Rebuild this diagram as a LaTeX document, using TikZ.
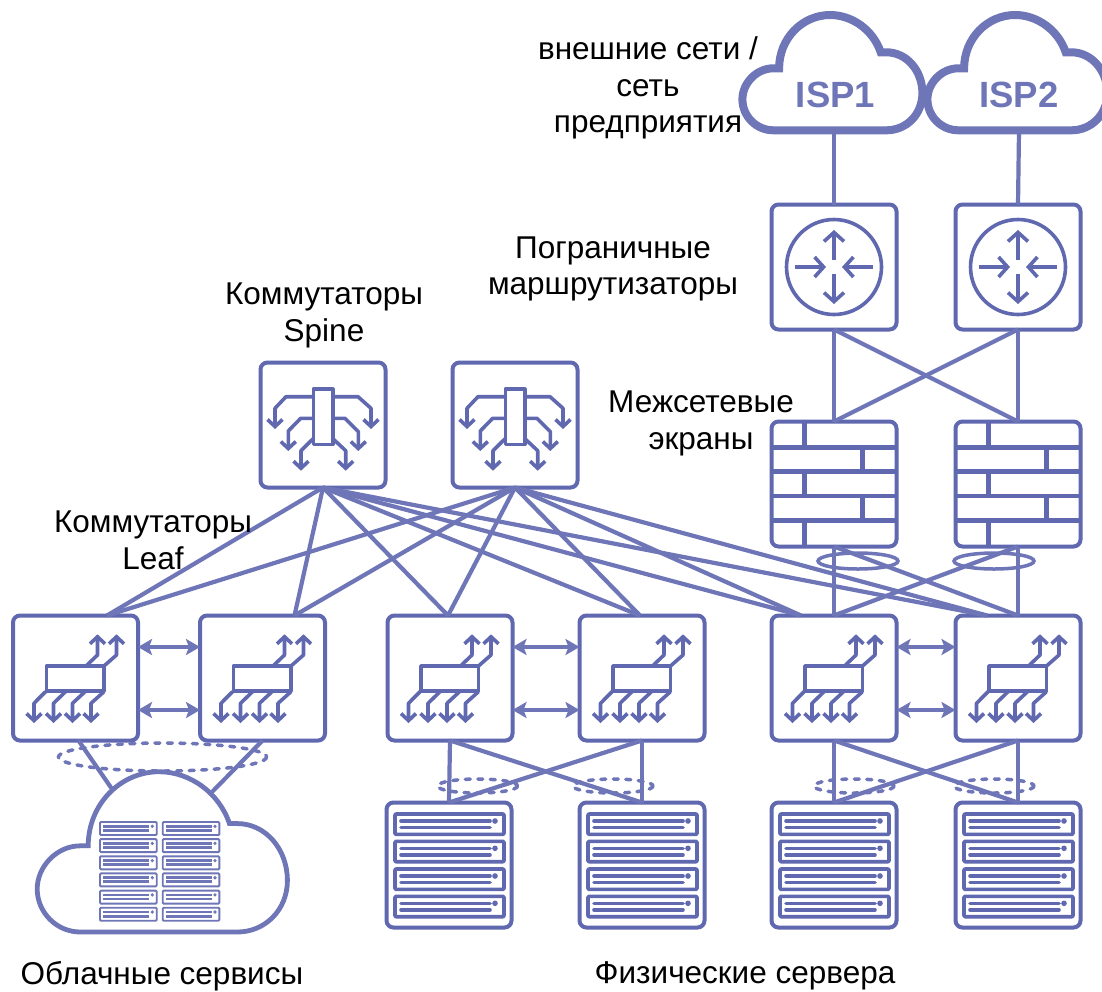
\documentclass[tikz,border=0pt]{standalone}
\usepackage{fontspec}
\setmainfont{Liberation Sans}
\usetikzlibrary{arrows.meta}
\definecolor{ic}{RGB}{96,104,176}
\definecolor{ln}{RGB}{110,118,184}
\tikzset{
  box/.style={draw=ic,line width=4pt,rounded corners=7pt,minimum size=125pt,inner sep=0pt,outer sep=0pt,fill=white},
  link/.style={draw=ln,line width=4.2pt},
  lbl/.style={font=\fontsize{31.5}{36.7}\selectfont,align=center,text=black,inner sep=0pt},
  isptext/.style={font=\fontsize{36.5}{36.5}\selectfont\bfseries,text=ln,inner sep=0pt,minimum height=70pt},
  iconline/.style={draw=ic,line width=3.6pt,line join=round},
  bar/.style={iconline,-{Straight Barb[length=7pt,width=15pt,line width=3.6pt]}},
  rbar/.style={iconline,-{Straight Barb[length=9pt,width=20pt,line width=3.6pt]}},
  dbl/.style={draw=ln,line width=4.5pt,{Stealth[length=14pt,width=16pt,inset=3pt]}-{Stealth[length=14pt,width=16pt,inset=3pt]}},
  ring/.style={draw=ln,line width=3.5pt},
  dring/.style={draw=ln,line width=3.5pt,line cap=round,dash pattern=on 5pt off 7.5pt},
  brick/.style={draw=ic,line width=4.8pt},
  cloudline/.style={draw=ln,line join=miter,fill=white},
  routericon/.pic={
    \draw[iconline] (0,0) circle[radius=47.5];
    \draw[rbar] (0,-7) -- (0,-37);
    \draw[rbar] (0,7) -- (0,37);
    \draw[rbar] (-39,0) -- (-8,0);
    \draw[rbar] (39,0) -- (8,0);
  },
  spineicon/.pic={
    \draw[bar] (-9.5,-28.3) -- (-37,-28.3) -- (-48,-16.7) -- (-48,4);
    \draw[bar] (-9.5,-6.7) -- (-22.3,-6.7) -- (-34.7,6) -- (-34.7,26);
    \draw[bar] (-9.5,13.3) -- (-22,25.7) -- (-22,45.7);
    \draw[bar] (9.5,-28.3) -- (35,-28.3) -- (48,-16.7) -- (48,4);
    \draw[bar] (9.5,-6.7) -- (22,-6.7) -- (35.3,6.7) -- (35.3,26);
    \draw[bar] (9.5,13.3) -- (22.7,25.7) -- (22.7,45.7);
    \draw[iconline,fill=white] (-9.7,-36) rectangle (9.7,19.5);
  },
  leaficon/.pic={
    \draw[bar] (10.5,-12) -- (22,-23) -- (22,-43.7);
    \draw[bar] (28.5,-12) -- (41,-23) -- (41,-43.7);
    \draw[bar] (-30,13.7) -- (-41.5,25.3) -- (-41.5,45);
    \draw[bar] (-10,13.7) -- (-22,25.3) -- (-22,45);
    \draw[bar] (9.5,13.7) -- (-3,25.3) -- (-3,45);
    \draw[bar] (28.5,13.7) -- (15.5,25.3) -- (15.5,45);
    \draw[iconline,fill=white] (-29,-12) rectangle (28.5,12.7);
  },
  firewallicon/.pic={
    \foreach \yy in {-36.7,-12.7,12,36.3} {\draw[brick] (-62.5,\yy) -- (62.5,\yy);}
    \draw[brick] (-29.5,-62.5) -- (-29.5,-36.7);
    \draw[brick] (28.6,-36.7) -- (28.6,-12.7);
    \draw[brick] (-29.5,-12.7) -- (-29.5,12);
    \draw[brick] (28.6,12) -- (28.6,36.3);
    \draw[brick] (-29.5,36.3) -- (-29.5,62.5);
  },
  servericon/.pic={
    \foreach \yy in {-51,-23.7,4,31.3} {
      \draw[iconline,rounded corners=1pt] (-54,\yy) rectangle (55,\yy+20.4);
      \draw[iconline,line cap=round] (-48,\yy+7) -- (41,\yy+7);
      \draw[iconline,line cap=round] (-48,\yy+13.4) -- (41,\yy+13.4);
      \fill[ic] (46,\yy+7) circle[radius=2.8];
    }
  },
  miniserver/.pic={
    \draw[draw=ln,line width=1.9pt,rounded corners=1pt] (0,0) rectangle (56.7,13);
    \draw[draw=ln,line width=2.8pt] (3.3,4.3) -- (49,4.3);
    \draw[draw=ln,line width=2.8pt] (3.3,8.4) -- (49,8.4);
    \fill[ln] (52.3,4.3) circle[radius=1.8];
  },
}
\newcommand{\cloudshape}[4]{%
  \draw[cloudline,line width=#4pt,shift={(#1,#2)},scale=#3]
    (-59,0) -- (54,0) .. controls (74,0) and (90,-16) .. (90,-37)
    .. controls (90,-60) and (74,-78) .. (54,-78) -- (48.3,-78)
    .. controls (41,-100) and (20,-115.3) .. (-2.3,-115.3)
    .. controls (-30,-115.3) and (-53.3,-92) .. (-53.3,-62) -- (-59,-62)
    .. controls (-76,-62) and (-90,-47) .. (-90,-31)
    .. controls (-90,-14) and (-76,0) .. (-59,0) -- cycle;}
\begin{document}
\begin{tikzpicture}[x=1pt,y=-1pt]
\useasboundingbox (0,0) rectangle (1102,991);
\clip (0,0) rectangle (1102,991);
\fill[white] (0,0) rectangle (1102,991);
% clouds
\cloudshape{832.4}{130.3}{1}{8}
\cloudshape{1017.4}{130.3}{1}{8}
\cloudshape{162.3}{932}{1.39}{4.8}
\node[isptext] (isp1) at (835.5,95) {ISP1};
\node[isptext] (isp2) at (1019,95) {ISP2};
% boxes
\node[box] (R1) at (834,267) {};
\node[box] (R2) at (1018,267) {};
\node[box] (F1) at (834,484) {};
\node[box] (F2) at (1018,484) {};
\node[box] (S1) at (323,425) {};
\node[box] (S2) at (515,425) {};
\node[box] (L1) at (75.5,678) {};
\node[box] (L2) at (262.5,678) {};
\node[box] (L3) at (450,678) {};
\node[box] (L4) at (642,678) {};
\node[box] (L5) at (834,678) {};
\node[box] (L6) at (1018,678) {};
\node[box] (V1) at (449,865) {};
\node[box] (V2) at (642,865) {};
\node[box] (V3) at (834,865) {};
\node[box] (V4) at (1018,865) {};
% icons
\pic at (R1) {routericon};
\pic at (R2) {routericon};
\pic at (F1) {firewallicon};
\pic at (F2) {firewallicon};
\pic at (S1) {spineicon};
\pic at (S2) {spineicon};
\foreach \n in {L1,L2,L3,L4,L5,L6} {\pic at (\n) {leaficon};}
\foreach \n in {V1,V2,V3,V4} {\pic at (\n) {servericon};}
\foreach \yy in {822,839.1,856.3,873.4,890.6,907.7} {
  \pic at (100,\yy) {miniserver};
  \pic at (162.7,\yy) {miniserver};
}
% rings
\draw[ring] (858,561) ellipse[x radius=40,y radius=8];
\draw[ring] (994,561) ellipse[x radius=40,y radius=8];
\draw[dring] (162.5,757) ellipse[x radius=104,y radius=14];
\draw[dring] (477.5,786) ellipse[x radius=40,y radius=7];
\draw[dring] (613,786) ellipse[x radius=40,y radius=7];
\draw[dring] (854,786) ellipse[x radius=40,y radius=7];
\draw[dring] (994,786) ellipse[x radius=40,y radius=7];
% connectors
\coordinate (cl) at (112,789);
\coordinate (cr) at (212,792);
\draw[link] (isp1.south -| R1.north) -- (R1.north);
\draw[link] (isp2.south) -- (R2.north);
\draw[link] (R1.south) -- (F1.north);
\draw[link] (R1.south) -- (F2.north);
\draw[link] (R2.south) -- (F1.north);
\draw[link] (R2.south) -- (F2.north);
\draw[link] (F1.south) -- (L5.north);
\draw[link] (F1.south) -- (L6.north);
\draw[link] (F2.south) -- (L5.north);
\draw[link] (F2.south) -- (L6.north);
\foreach \s in {S1,S2} {
  \draw[link] (\s.south) -- ([xshift=31.5pt]L1.north);
  \draw[link] (\s.south) -- ([xshift=32pt]L2.north);
  \draw[link] (\s.south) -- ([xshift=-2pt]L3.north);
  \draw[link] (\s.south) -- ([xshift=-2pt]L4.north);
  \draw[link] (\s.south) -- ([xshift=-33pt]L5.north);
  \draw[link] (\s.south) -- ([xshift=-31pt]L6.north);
}
\draw[link] ([xshift=3pt]L1.south) -- (cl);
\draw[link] (L2.south) -- (cr);
\draw[link] (L3.south) -- (V1.north);
\draw[link] (L3.south) -- (V2.north);
\draw[link] (L4.south) -- (V1.north);
\draw[link] (L4.south) -- (V2.north);
\draw[link] (L5.south) -- (V3.north);
\draw[link] (L5.south) -- (V4.north);
\draw[link] (L6.south) -- (V3.north);
\draw[link] (L6.south) -- (V4.north);
\foreach \a/\b in {L1/L2,L3/L4,L5/L6} {
  \draw[dbl] ([yshift=31pt]\a.east) -- ([yshift=31pt]\b.west);
  \draw[dbl] ([yshift=-32pt]\a.east) -- ([yshift=-32pt]\b.west);
}
% labels
\node[lbl] (t1) at (648,88) {внешние сети /\\сеть\\предприятия};
\node[lbl] (t2) at (613,269) {Пограничные\\маршрутизаторы};
\node[lbl] (t3) at (324,315.5) {Коммутаторы\\Spine};
\node[lbl] (t4) at (701,423.5) {Межсетевые\\экраны};
\node[lbl] (t5) at (153,540) {Коммутаторы\\Leaf};
\node[lbl] (t6) at (162,976) {Облачные сервисы};
\node[lbl] (t7) at (745,976) {Физические сервера};
\end{tikzpicture}
\end{document}
